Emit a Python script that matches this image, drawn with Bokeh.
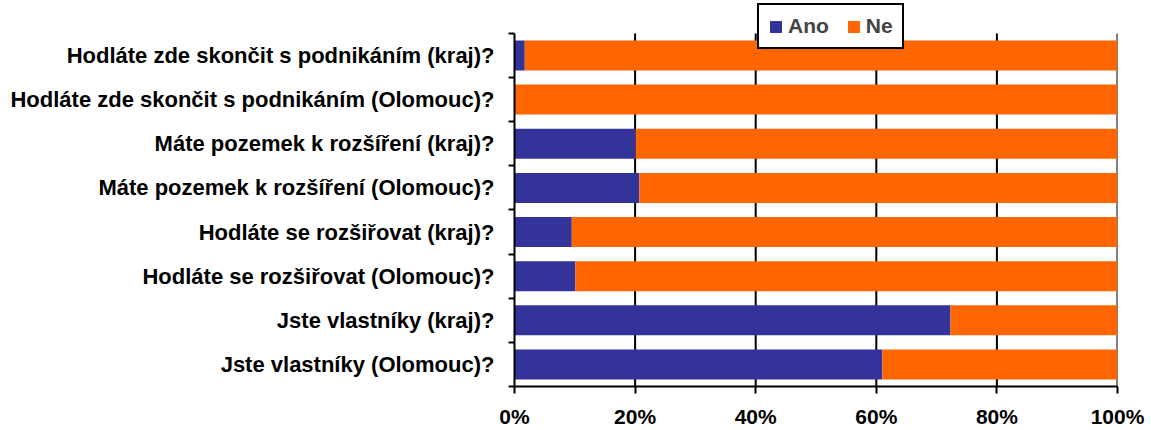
from bokeh.plotting import figure
from bokeh.models import ColumnDataSource, FixedTicker, NumeralTickFormatter, Range1d, Legend, LegendItem
from bokeh.embed import file_html
from bokeh.resources import INLINE

questions = [
    "Hodláte zde skončit s podnikáním (kraj)?",
    "Hodláte zde skončit s podnikáním (Olomouc)?",
    "Máte pozemek k rozšíření (kraj)?",
    "Máte pozemek k rozšíření (Olomouc)?",
    "Hodláte se rozšiřovat (kraj)?",
    "Hodláte se rozšiřovat (Olomouc)?",
    "Jste vlastníky (kraj)?",
    "Jste vlastníky (Olomouc)?",
]
ano = [0.017, 0.0, 0.201, 0.207, 0.095, 0.101, 0.723, 0.610]
ne = [0.983, 1.0, 0.799, 0.793, 0.905, 0.899, 0.277, 0.390]
series = ["Ano", "Ne"]
colors = ["#333399", "#FF6600"]
x_ticks = [0, 0.2, 0.4, 0.6, 0.8, 1.0]

FONT = "Liberation Sans"
n = len(questions)
ypos = [n - i - 0.5 for i in range(n)]
src = ColumnDataSource(dict(y=ypos, Ano=ano, Ne=ne))

W, H = 1151, 430
LEFT, RIGHT, BOTTOM = 514, 34, 43
PLOT_TOP = 33  # px of empty space above the bar area (legend overlaps it)
frame_h = H - BOTTOM
y_end = n * frame_h / (frame_h - PLOT_TOP)

p = figure(width=W, height=H,
           x_range=Range1d(0, 1), y_range=Range1d(0, y_end),
           output_backend="svg", toolbar_location=None,
           min_border_left=LEFT, min_border_right=RIGHT, min_border_top=0, min_border_bottom=BOTTOM)
p.outline_line_color = None

# vertical grid lines limited to the bar area
gx = x_ticks[1:]
p.segment(x0=gx, y0=[0] * len(gx), x1=gx, y1=[n] * len(gx),
          line_color="black", line_width=2, level="underlay")

rs = p.hbar_stack(series, y="y", height=0.68, color=colors, source=src, line_color=None)

# x axis
p.xaxis.ticker = FixedTicker(ticks=x_ticks)
p.xaxis.formatter = NumeralTickFormatter(format="0%")
p.xaxis.axis_line_width = 2
p.xaxis.axis_line_color = "black"
p.xaxis.major_tick_line_width = 2
p.xaxis.major_tick_line_color = "black"
p.xaxis.major_tick_out = 7
p.xaxis.major_tick_in = 0
p.xaxis.minor_tick_line_color = None
p.xaxis.major_label_text_font = FONT
p.xaxis.major_label_text_font_style = "bold"
p.xaxis.major_label_text_font_size = "21px"
p.xaxis.major_label_text_color = "black"
p.xaxis.major_label_standoff = 11

# y axis
p.yaxis.bounds = (0, n)
p.yaxis.ticker = FixedTicker(ticks=ypos, minor_ticks=list(range(n + 1)))
p.yaxis.major_label_overrides = {y: q for y, q in zip(ypos, questions)}
p.yaxis.axis_line_width = 2
p.yaxis.axis_line_color = "black"
p.yaxis.major_tick_out = 0
p.yaxis.major_tick_in = 0
p.yaxis.minor_tick_out = 6
p.yaxis.minor_tick_in = 0
p.yaxis.minor_tick_line_width = 2
p.yaxis.minor_tick_line_color = "black"
p.yaxis.major_label_text_font = FONT
p.yaxis.major_label_text_font_style = "bold"
p.yaxis.major_label_text_font_size = "22px"
p.yaxis.major_label_text_color = "black"
p.yaxis.major_label_standoff = 14

p.xgrid.grid_line_color = None
p.ygrid.grid_line_color = None

legend = Legend(items=[LegendItem(label=s, renderers=[r]) for s, r in zip(series, rs)],
                orientation="horizontal", location=(243, frame_h - 50))
legend.border_line_color = "black"
legend.border_line_width = 2
legend.border_line_alpha = 1
legend.background_fill_color = "white"
legend.background_fill_alpha = 1
legend.label_text_font = FONT
legend.label_text_font_style = "bold"
legend.label_text_font_size = "21px"
legend.glyph_width = 15
legend.glyph_height = 15
legend.label_standoff = 5
legend.spacing = 17
legend.padding = 9
legend.margin = 0
p.add_layout(legend)

open("out.html", "w").write(file_html(p, INLINE))
